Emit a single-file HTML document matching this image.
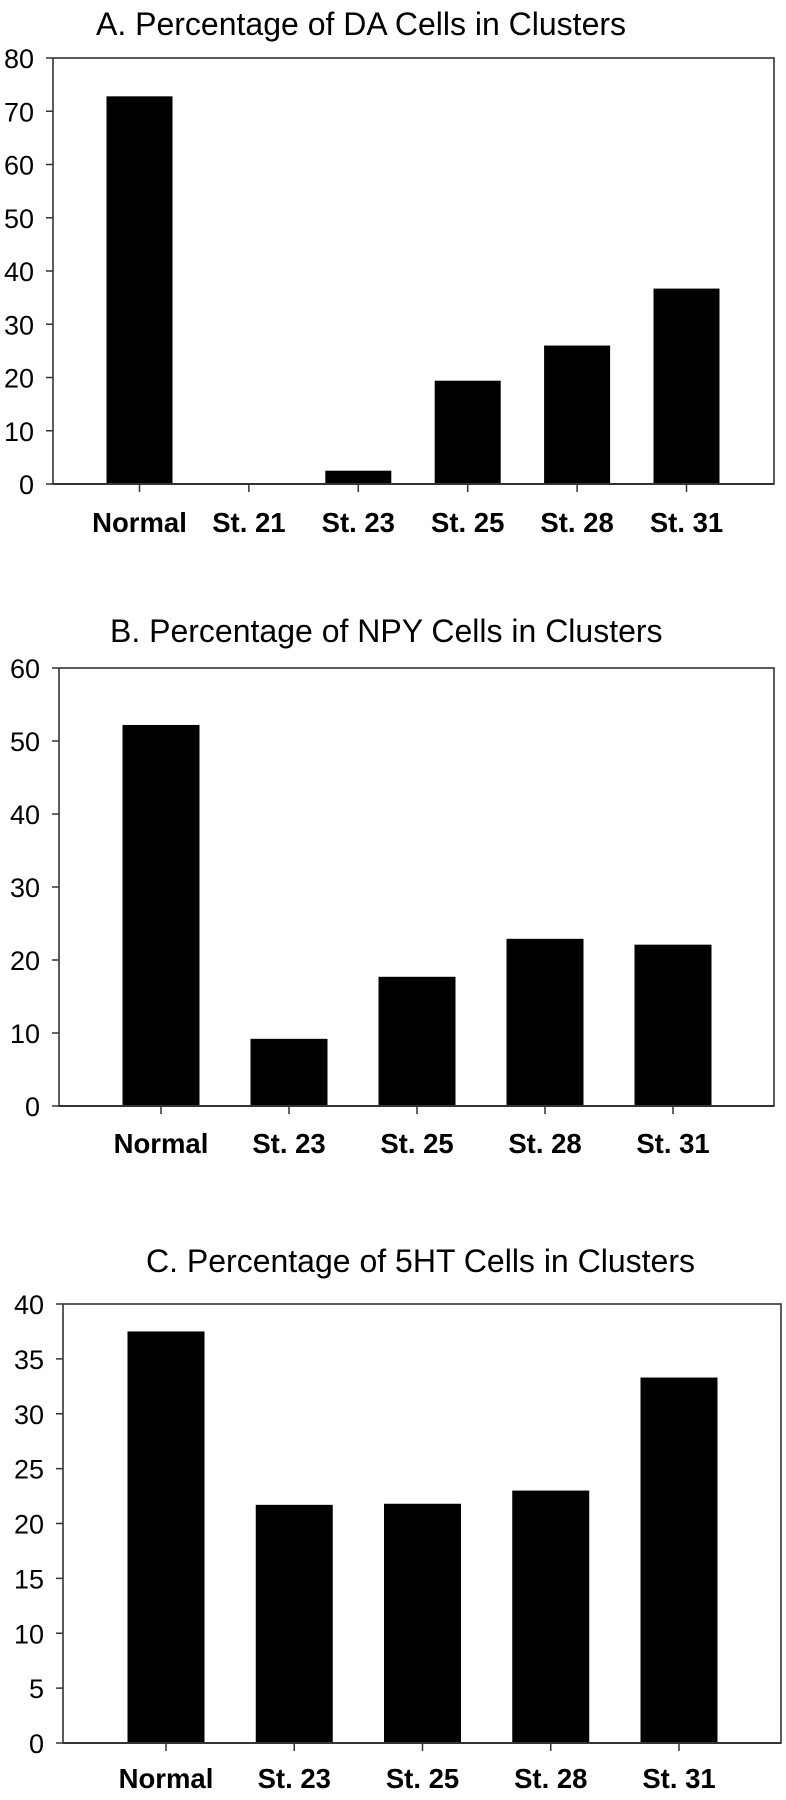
<!DOCTYPE html>
<html><head><meta charset="utf-8"><style>
html,body{margin:0;padding:0;background:#fff;}
svg{display:block;font-family:"Liberation Sans",Arial,sans-serif;}
</style></head><body>
<svg id="fig" width="786" height="1800" viewBox="0 0 786 1800" xmlns="http://www.w3.org/2000/svg"></svg>
<script>
// Chart A data
const catsA = ["Normal","St. 21","St. 23","St. 25","St. 28","St. 31"];
const valsA = [72.8, 0, 2.5, 19.4, 26.0, 36.7];
const ticksA = [0,10,20,30,40,50,60,70,80];
// Chart B data
const catsB = ["Normal","St. 23","St. 25","St. 28","St. 31"];
const valsB = [52.2, 9.2, 17.7, 22.9, 22.1];
const ticksB = [0,10,20,30,40,50,60];
// Chart C data
const catsC = ["Normal","St. 23","St. 25","St. 28","St. 31"];
const valsC = [37.5, 21.7, 21.8, 23.0, 33.3];
const ticksC = [0,5,10,15,20,25,30,35,40];

const NS = "http://www.w3.org/2000/svg";
const svg = document.getElementById('fig');
function mk(tag, attrs, parent){
  const e = document.createElementNS(NS, tag);
  for (const k in attrs) e.setAttribute(k, attrs[k]);
  (parent||svg).appendChild(e);
  return e;
}

function drawChart(cfg){
  const g = mk('g', {});
  
  
  const yMax = cfg.ticks[cfg.ticks.length-1];
  const yScale = v => cfg.bottom - (v / yMax) * (cfg.bottom - cfg.top);
  const xScale = i => cfg.firstCenter + i * cfg.step;

  const t = mk('text', {x: cfg.titleX, y: cfg.titleY, 'font-size': 32, fill: '#000'}, g);
  t.textContent = cfg.title;
  
  

  const fr = mk('rect', {x: cfg.left, y: cfg.top, width: cfg.right - cfg.left, height: cfg.bottom - cfg.top, fill: '#fff', stroke: '#333', 'stroke-width': 1.6}, g);
  
  

  cfg.vals.forEach((v, i) => {
    const cx = xScale(i);
    const y = yScale(v);
    const b = mk('rect', {x: cx - cfg.barW/2, y: y, width: cfg.barW, height: cfg.bottom - y, fill: '#000'}, g);
    
    
  });

  cfg.ticks.forEach(tv => {
    const y = yScale(tv);
    mk('line', {x1: cfg.left - 7, x2: cfg.left, y1: y, y2: y, stroke: '#333', 'stroke-width': 1.5}, g);
    const lb = mk('text', {x: cfg.left - 19, y: y + 10, 'font-size': 27, 'text-anchor': 'end', fill: '#000'}, g);
    lb.textContent = tv;
    
    
  });
  mk('line', {x1: cfg.left, x2: cfg.right, y1: cfg.bottom, y2: cfg.bottom, stroke: '#333', 'stroke-width': 2}, g);

  cfg.cats.forEach((c, i) => {
    const cx = xScale(i);
    mk('line', {x1: cx, x2: cx, y1: cfg.bottom, y2: cfg.bottom + 8, stroke: '#333', 'stroke-width': 1.5}, g);
    const lb = mk('text', {x: cx, y: cfg.labelY, 'font-size': 27.5, 'font-weight': 'bold', 'text-anchor': 'middle', fill: '#000'}, g);
    lb.textContent = c;
    
    
  });
}

drawChart({name: 'chart-a-da-cells', title: 'A. Percentage of DA Cells in Clusters', titleX: 96, titleY: 35,
  cats: catsA, vals: valsA, ticks: ticksA, left: 53, right: 774, top: 58, bottom: 484,
  firstCenter: 139.5, step: 109.4, barW: 66, labelY: 532});
drawChart({name: 'chart-b-npy-cells', title: 'B. Percentage of NPY Cells in Clusters', titleX: 110, titleY: 642,
  cats: catsB, vals: valsB, ticks: ticksB, left: 59, right: 774, top: 668, bottom: 1106,
  firstCenter: 161, step: 128, barW: 77, labelY: 1153});
drawChart({name: 'chart-c-5ht-cells', title: 'C. Percentage of 5HT Cells in Clusters', titleX: 146, titleY: 1272,
  cats: catsC, vals: valsC, ticks: ticksC, left: 63, right: 781, top: 1304, bottom: 1743,
  firstCenter: 166, step: 128.25, barW: 77, labelY: 1788});
</script>
</body></html>
